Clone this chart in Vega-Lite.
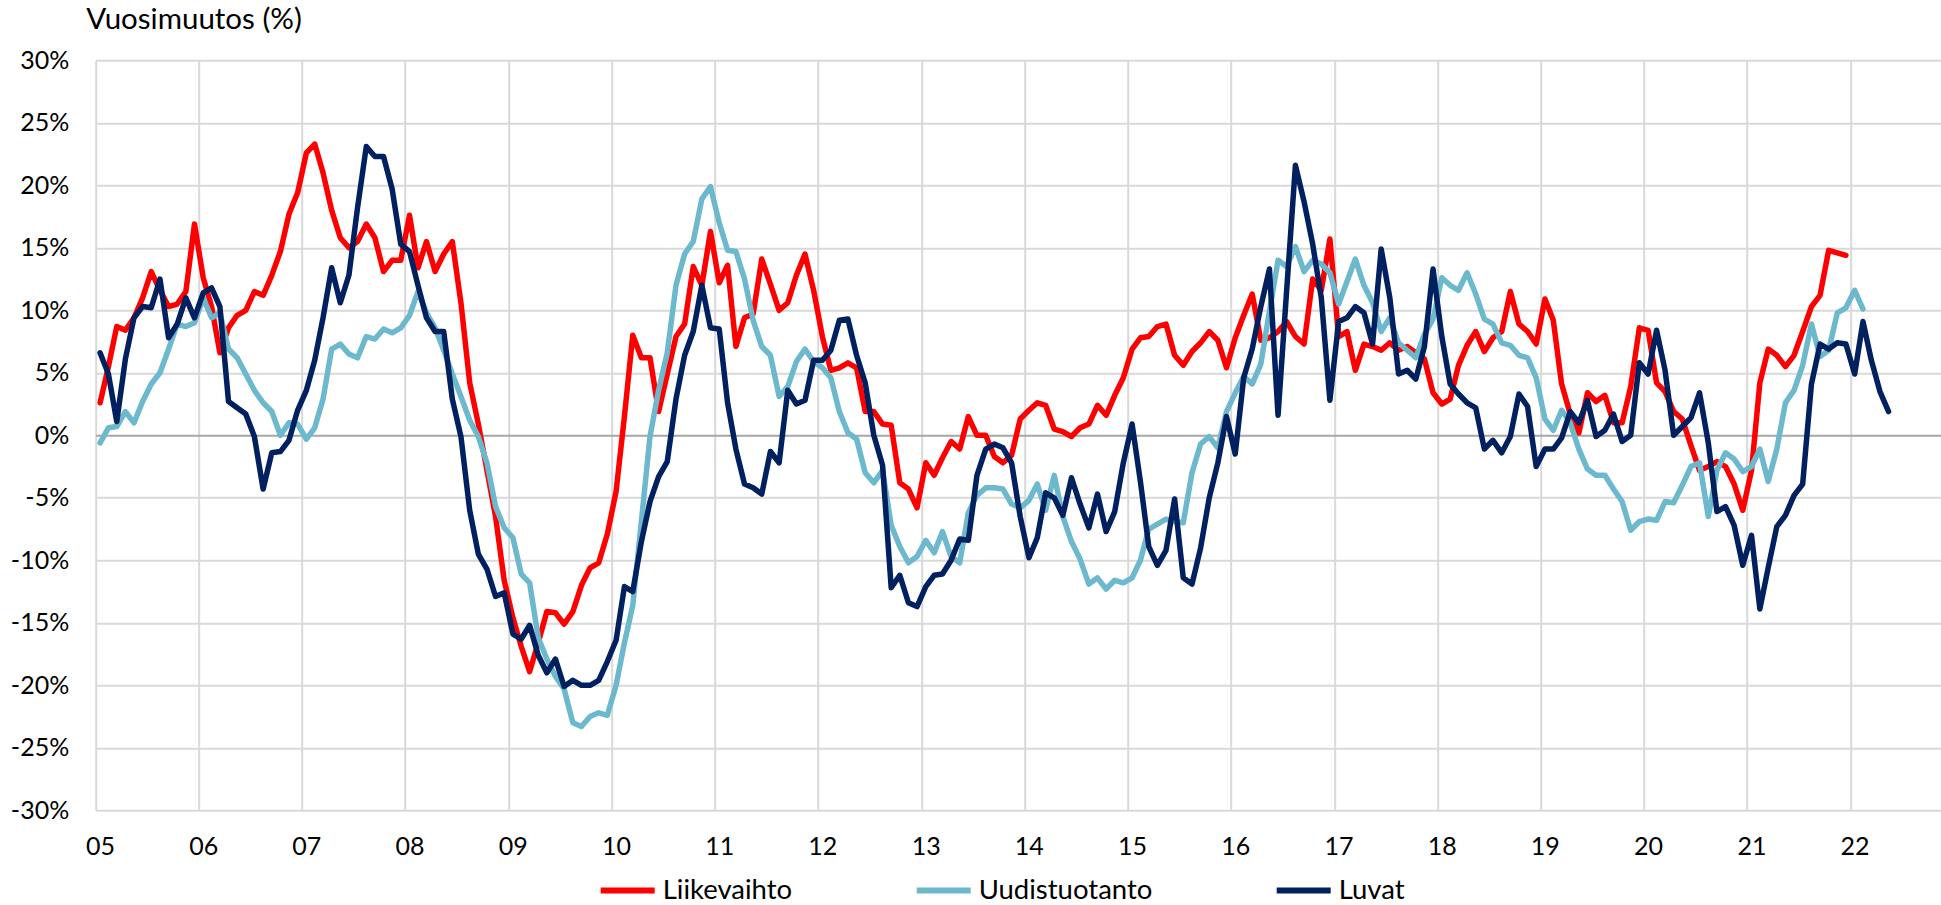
{
  "$schema": "https://vega.github.io/schema/vega-lite/v6.json",
  "width": 1845.3,
  "height": 750,
  "autosize": {"type": "none"},
  "padding": {"left": 95.7, "top": 60.3, "right": 0, "bottom": 94.7},
  "background": "white",
  "config": {"view": {"stroke": null}, "font": "Lato"},
  "data": {"values": [
    {"d":"2005-01","Liikevaihto":2.6,"Uudistuotanto":-0.6,"Luvat":6.6},
    {"d":"2005-02","Liikevaihto":5.5,"Uudistuotanto":0.6,"Luvat":4.9},
    {"d":"2005-03","Liikevaihto":8.7,"Uudistuotanto":0.7,"Luvat":1.1},
    {"d":"2005-04","Liikevaihto":8.4,"Uudistuotanto":1.9,"Luvat":6.1},
    {"d":"2005-05","Liikevaihto":9.4,"Uudistuotanto":1.0,"Luvat":9.4},
    {"d":"2005-06","Liikevaihto":11.0,"Uudistuotanto":2.7,"Luvat":10.3},
    {"d":"2005-07","Liikevaihto":13.1,"Uudistuotanto":4.1,"Luvat":10.2},
    {"d":"2005-08","Liikevaihto":11.6,"Uudistuotanto":5.0,"Luvat":12.5},
    {"d":"2005-09","Liikevaihto":10.3,"Uudistuotanto":6.9,"Luvat":7.8},
    {"d":"2005-10","Liikevaihto":10.5,"Uudistuotanto":8.9,"Luvat":8.9},
    {"d":"2005-11","Liikevaihto":11.5,"Uudistuotanto":8.7,"Luvat":11.0},
    {"d":"2005-12","Liikevaihto":16.9,"Uudistuotanto":9.0,"Luvat":9.4},
    {"d":"2006-01","Liikevaihto":12.6,"Uudistuotanto":11.0,"Luvat":11.4},
    {"d":"2006-02","Liikevaihto":10.3,"Uudistuotanto":9.4,"Luvat":11.8},
    {"d":"2006-03","Liikevaihto":6.6,"Uudistuotanto":9.8,"Luvat":10.3},
    {"d":"2006-04","Liikevaihto":8.6,"Uudistuotanto":6.9,"Luvat":2.7},
    {"d":"2006-05","Liikevaihto":9.6,"Uudistuotanto":6.2,"Luvat":2.2},
    {"d":"2006-06","Liikevaihto":10.0,"Uudistuotanto":4.9,"Luvat":1.7},
    {"d":"2006-07","Liikevaihto":11.5,"Uudistuotanto":3.6,"Luvat":-0.1},
    {"d":"2006-08","Liikevaihto":11.2,"Uudistuotanto":2.6,"Luvat":-4.3},
    {"d":"2006-09","Liikevaihto":12.8,"Uudistuotanto":1.9,"Luvat":-1.4},
    {"d":"2006-10","Liikevaihto":14.7,"Uudistuotanto":0.0,"Luvat":-1.3},
    {"d":"2006-11","Liikevaihto":17.7,"Uudistuotanto":1.0,"Luvat":-0.4},
    {"d":"2006-12","Liikevaihto":19.4,"Uudistuotanto":0.9,"Luvat":2.0},
    {"d":"2007-01","Liikevaihto":22.6,"Uudistuotanto":-0.3,"Luvat":3.6},
    {"d":"2007-02","Liikevaihto":23.3,"Uudistuotanto":0.6,"Luvat":6.0},
    {"d":"2007-03","Liikevaihto":21.0,"Uudistuotanto":2.9,"Luvat":9.4},
    {"d":"2007-04","Liikevaihto":18.0,"Uudistuotanto":6.9,"Luvat":13.4},
    {"d":"2007-05","Liikevaihto":15.8,"Uudistuotanto":7.3,"Luvat":10.6},
    {"d":"2007-06","Liikevaihto":15.0,"Uudistuotanto":6.5,"Luvat":12.8},
    {"d":"2007-07","Liikevaihto":15.5,"Uudistuotanto":6.2,"Luvat":18.2},
    {"d":"2007-08","Liikevaihto":16.9,"Uudistuotanto":7.9,"Luvat":23.1},
    {"d":"2007-09","Liikevaihto":15.8,"Uudistuotanto":7.7,"Luvat":22.3},
    {"d":"2007-10","Liikevaihto":13.1,"Uudistuotanto":8.5,"Luvat":22.3},
    {"d":"2007-11","Liikevaihto":14.0,"Uudistuotanto":8.2,"Luvat":19.7},
    {"d":"2007-12","Liikevaihto":14.0,"Uudistuotanto":8.6,"Luvat":15.3},
    {"d":"2008-01","Liikevaihto":17.6,"Uudistuotanto":9.6,"Luvat":14.7},
    {"d":"2008-02","Liikevaihto":13.4,"Uudistuotanto":11.5,"Luvat":12.0},
    {"d":"2008-03","Liikevaihto":15.5,"Uudistuotanto":9.8,"Luvat":9.4},
    {"d":"2008-04","Liikevaihto":13.1,"Uudistuotanto":8.6,"Luvat":8.3},
    {"d":"2008-05","Liikevaihto":14.5,"Uudistuotanto":6.8,"Luvat":8.3},
    {"d":"2008-06","Liikevaihto":15.5,"Uudistuotanto":4.9,"Luvat":2.9},
    {"d":"2008-07","Liikevaihto":10.6,"Uudistuotanto":3.1,"Luvat":-0.1},
    {"d":"2008-08","Liikevaihto":4.2,"Uudistuotanto":1.2,"Luvat":-6.0},
    {"d":"2008-09","Liikevaihto":0.9,"Uudistuotanto":-0.1,"Luvat":-9.5},
    {"d":"2008-10","Liikevaihto":-2.8,"Uudistuotanto":-2.2,"Luvat":-10.7},
    {"d":"2008-11","Liikevaihto":-6.5,"Uudistuotanto":-5.7,"Luvat":-12.9},
    {"d":"2008-12","Liikevaihto":-11.6,"Uudistuotanto":-7.4,"Luvat":-12.6},
    {"d":"2009-01","Liikevaihto":-14.6,"Uudistuotanto":-8.2,"Luvat":-15.9},
    {"d":"2009-02","Liikevaihto":-16.9,"Uudistuotanto":-11.1,"Luvat":-16.3},
    {"d":"2009-03","Liikevaihto":-18.9,"Uudistuotanto":-11.8,"Luvat":-15.2},
    {"d":"2009-04","Liikevaihto":-16.6,"Uudistuotanto":-16.2,"Luvat":-17.6},
    {"d":"2009-05","Liikevaihto":-14.1,"Uudistuotanto":-17.9,"Luvat":-19.0},
    {"d":"2009-06","Liikevaihto":-14.2,"Uudistuotanto":-19.3,"Luvat":-17.9},
    {"d":"2009-07","Liikevaihto":-15.1,"Uudistuotanto":-20.3,"Luvat":-20.1},
    {"d":"2009-08","Liikevaihto":-14.1,"Uudistuotanto":-23.0,"Luvat":-19.6},
    {"d":"2009-09","Liikevaihto":-12.0,"Uudistuotanto":-23.3,"Luvat":-20.0},
    {"d":"2009-10","Liikevaihto":-10.6,"Uudistuotanto":-22.5,"Luvat":-20.0},
    {"d":"2009-11","Liikevaihto":-10.2,"Uudistuotanto":-22.2,"Luvat":-19.6},
    {"d":"2009-12","Liikevaihto":-7.9,"Uudistuotanto":-22.4,"Luvat":-18.1},
    {"d":"2010-01","Liikevaihto":-4.5,"Uudistuotanto":-20.0,"Luvat":-16.4},
    {"d":"2010-02","Liikevaihto":1.5,"Uudistuotanto":-16.6,"Luvat":-12.1},
    {"d":"2010-03","Liikevaihto":8.0,"Uudistuotanto":-13.6,"Luvat":-12.5},
    {"d":"2010-04","Liikevaihto":6.2,"Uudistuotanto":-6.9,"Luvat":-8.5},
    {"d":"2010-05","Liikevaihto":6.2,"Uudistuotanto":-0.1,"Luvat":-5.3},
    {"d":"2010-06","Liikevaihto":1.9,"Uudistuotanto":3.6,"Luvat":-3.3},
    {"d":"2010-07","Liikevaihto":4.9,"Uudistuotanto":6.6,"Luvat":-2.1},
    {"d":"2010-08","Liikevaihto":7.9,"Uudistuotanto":12.0,"Luvat":2.9},
    {"d":"2010-09","Liikevaihto":8.9,"Uudistuotanto":14.5,"Luvat":6.4},
    {"d":"2010-10","Liikevaihto":13.5,"Uudistuotanto":15.5,"Luvat":8.3},
    {"d":"2010-11","Liikevaihto":12.0,"Uudistuotanto":18.9,"Luvat":12.0},
    {"d":"2010-12","Liikevaihto":16.3,"Uudistuotanto":19.9,"Luvat":8.6},
    {"d":"2011-01","Liikevaihto":12.2,"Uudistuotanto":17.0,"Luvat":8.5},
    {"d":"2011-02","Liikevaihto":13.6,"Uudistuotanto":14.8,"Luvat":2.6},
    {"d":"2011-03","Liikevaihto":7.1,"Uudistuotanto":14.7,"Luvat":-1.1},
    {"d":"2011-04","Liikevaihto":9.4,"Uudistuotanto":12.5,"Luvat":-3.9},
    {"d":"2011-05","Liikevaihto":9.7,"Uudistuotanto":9.2,"Luvat":-4.2},
    {"d":"2011-06","Liikevaihto":14.1,"Uudistuotanto":7.1,"Luvat":-4.7},
    {"d":"2011-07","Liikevaihto":12.1,"Uudistuotanto":6.4,"Luvat":-1.3},
    {"d":"2011-08","Liikevaihto":10.0,"Uudistuotanto":3.1,"Luvat":-2.2},
    {"d":"2011-09","Liikevaihto":10.6,"Uudistuotanto":3.9,"Luvat":3.6},
    {"d":"2011-10","Liikevaihto":12.8,"Uudistuotanto":5.9,"Luvat":2.5},
    {"d":"2011-11","Liikevaihto":14.5,"Uudistuotanto":6.9,"Luvat":2.8},
    {"d":"2011-12","Liikevaihto":11.6,"Uudistuotanto":5.9,"Luvat":6.0},
    {"d":"2012-01","Liikevaihto":7.9,"Uudistuotanto":5.4,"Luvat":6.0},
    {"d":"2012-02","Liikevaihto":5.2,"Uudistuotanto":4.6,"Luvat":6.8},
    {"d":"2012-03","Liikevaihto":5.4,"Uudistuotanto":1.9,"Luvat":9.2},
    {"d":"2012-04","Liikevaihto":5.8,"Uudistuotanto":0.2,"Luvat":9.3},
    {"d":"2012-05","Liikevaihto":5.4,"Uudistuotanto":-0.3,"Luvat":6.4},
    {"d":"2012-06","Liikevaihto":1.9,"Uudistuotanto":-3.0,"Luvat":4.2},
    {"d":"2012-07","Liikevaihto":1.9,"Uudistuotanto":-3.8,"Luvat":0.0},
    {"d":"2012-08","Liikevaihto":0.9,"Uudistuotanto":-2.8,"Luvat":-2.4},
    {"d":"2012-09","Liikevaihto":0.8,"Uudistuotanto":-7.2,"Luvat":-12.2},
    {"d":"2012-10","Liikevaihto":-3.8,"Uudistuotanto":-8.9,"Luvat":-11.2},
    {"d":"2012-11","Liikevaihto":-4.3,"Uudistuotanto":-10.2,"Luvat":-13.4},
    {"d":"2012-12","Liikevaihto":-5.8,"Uudistuotanto":-9.7,"Luvat":-13.7},
    {"d":"2013-01","Liikevaihto":-2.2,"Uudistuotanto":-8.4,"Luvat":-12.1},
    {"d":"2013-02","Liikevaihto":-3.2,"Uudistuotanto":-9.4,"Luvat":-11.2},
    {"d":"2013-03","Liikevaihto":-1.8,"Uudistuotanto":-7.7,"Luvat":-11.1},
    {"d":"2013-04","Liikevaihto":-0.5,"Uudistuotanto":-9.7,"Luvat":-10.0},
    {"d":"2013-05","Liikevaihto":-1.1,"Uudistuotanto":-10.2,"Luvat":-8.3},
    {"d":"2013-06","Liikevaihto":1.5,"Uudistuotanto":-6.2,"Luvat":-8.4},
    {"d":"2013-07","Liikevaihto":0.0,"Uudistuotanto":-4.8,"Luvat":-3.2},
    {"d":"2013-08","Liikevaihto":0.0,"Uudistuotanto":-4.2,"Luvat":-1.1},
    {"d":"2013-09","Liikevaihto":-1.7,"Uudistuotanto":-4.2,"Luvat":-0.7},
    {"d":"2013-10","Liikevaihto":-2.2,"Uudistuotanto":-4.3,"Luvat":-1.0},
    {"d":"2013-11","Liikevaihto":-1.6,"Uudistuotanto":-5.5,"Luvat":-2.2},
    {"d":"2013-12","Liikevaihto":1.3,"Uudistuotanto":-5.8,"Luvat":-6.5},
    {"d":"2014-01","Liikevaihto":2.0,"Uudistuotanto":-5.2,"Luvat":-9.8},
    {"d":"2014-02","Liikevaihto":2.6,"Uudistuotanto":-3.9,"Luvat":-8.2},
    {"d":"2014-03","Liikevaihto":2.4,"Uudistuotanto":-6.0,"Luvat":-4.6},
    {"d":"2014-04","Liikevaihto":0.5,"Uudistuotanto":-3.2,"Luvat":-5.0},
    {"d":"2014-05","Liikevaihto":0.3,"Uudistuotanto":-6.5,"Luvat":-6.4},
    {"d":"2014-06","Liikevaihto":-0.1,"Uudistuotanto":-8.5,"Luvat":-3.4},
    {"d":"2014-07","Liikevaihto":0.6,"Uudistuotanto":-9.9,"Luvat":-5.5},
    {"d":"2014-08","Liikevaihto":0.9,"Uudistuotanto":-11.9,"Luvat":-7.4},
    {"d":"2014-09","Liikevaihto":2.4,"Uudistuotanto":-11.4,"Luvat":-4.7},
    {"d":"2014-10","Liikevaihto":1.6,"Uudistuotanto":-12.3,"Luvat":-7.7},
    {"d":"2014-11","Liikevaihto":3.2,"Uudistuotanto":-11.6,"Luvat":-6.1},
    {"d":"2014-12","Liikevaihto":4.6,"Uudistuotanto":-11.8,"Luvat":-2.2},
    {"d":"2015-01","Liikevaihto":6.9,"Uudistuotanto":-11.4,"Luvat":0.9},
    {"d":"2015-02","Liikevaihto":7.8,"Uudistuotanto":-10.0,"Luvat":-3.7},
    {"d":"2015-03","Liikevaihto":7.9,"Uudistuotanto":-7.5,"Luvat":-8.9},
    {"d":"2015-04","Liikevaihto":8.7,"Uudistuotanto":-7.1,"Luvat":-10.4},
    {"d":"2015-05","Liikevaihto":8.9,"Uudistuotanto":-6.7,"Luvat":-9.2},
    {"d":"2015-06","Liikevaihto":6.4,"Uudistuotanto":-6.9,"Luvat":-5.1},
    {"d":"2015-07","Liikevaihto":5.6,"Uudistuotanto":-7.0,"Luvat":-11.4},
    {"d":"2015-08","Liikevaihto":6.7,"Uudistuotanto":-3.0,"Luvat":-11.9},
    {"d":"2015-09","Liikevaihto":7.4,"Uudistuotanto":-0.7,"Luvat":-9.0},
    {"d":"2015-10","Liikevaihto":8.3,"Uudistuotanto":-0.1,"Luvat":-5.0},
    {"d":"2015-11","Liikevaihto":7.6,"Uudistuotanto":-1.0,"Luvat":-2.2},
    {"d":"2015-12","Liikevaihto":5.4,"Uudistuotanto":1.9,"Luvat":1.5},
    {"d":"2016-01","Liikevaihto":7.8,"Uudistuotanto":3.4,"Luvat":-1.5},
    {"d":"2016-02","Liikevaihto":9.6,"Uudistuotanto":4.7,"Luvat":4.6},
    {"d":"2016-03","Liikevaihto":11.3,"Uudistuotanto":4.1,"Luvat":6.9},
    {"d":"2016-04","Liikevaihto":7.6,"Uudistuotanto":5.7,"Luvat":10.3},
    {"d":"2016-05","Liikevaihto":7.8,"Uudistuotanto":9.9,"Luvat":13.3},
    {"d":"2016-06","Liikevaihto":8.3,"Uudistuotanto":14.0,"Luvat":1.6},
    {"d":"2016-07","Liikevaihto":9.1,"Uudistuotanto":13.5,"Luvat":11.6},
    {"d":"2016-08","Liikevaihto":7.9,"Uudistuotanto":15.1,"Luvat":21.6},
    {"d":"2016-09","Liikevaihto":7.3,"Uudistuotanto":13.1,"Luvat":18.7},
    {"d":"2016-10","Liikevaihto":12.5,"Uudistuotanto":14.0,"Luvat":15.3},
    {"d":"2016-11","Liikevaihto":11.6,"Uudistuotanto":13.7,"Luvat":11.0},
    {"d":"2016-12","Liikevaihto":15.7,"Uudistuotanto":13.0,"Luvat":2.8},
    {"d":"2017-01","Liikevaihto":7.9,"Uudistuotanto":10.5,"Luvat":9.1},
    {"d":"2017-02","Liikevaihto":8.3,"Uudistuotanto":12.3,"Luvat":9.4},
    {"d":"2017-03","Liikevaihto":5.2,"Uudistuotanto":14.1,"Luvat":10.3},
    {"d":"2017-04","Liikevaihto":7.3,"Uudistuotanto":12.0,"Luvat":9.8},
    {"d":"2017-05","Liikevaihto":7.1,"Uudistuotanto":10.6,"Luvat":7.3},
    {"d":"2017-06","Liikevaihto":6.8,"Uudistuotanto":8.3,"Luvat":14.9},
    {"d":"2017-07","Liikevaihto":7.4,"Uudistuotanto":9.4,"Luvat":11.0},
    {"d":"2017-08","Liikevaihto":6.8,"Uudistuotanto":7.4,"Luvat":4.9},
    {"d":"2017-09","Liikevaihto":7.1,"Uudistuotanto":6.8,"Luvat":5.2},
    {"d":"2017-10","Liikevaihto":6.6,"Uudistuotanto":6.2,"Luvat":4.5},
    {"d":"2017-11","Liikevaihto":6.1,"Uudistuotanto":8.1,"Luvat":7.1},
    {"d":"2017-12","Liikevaihto":3.4,"Uudistuotanto":9.3,"Luvat":13.3},
    {"d":"2018-01","Liikevaihto":2.5,"Uudistuotanto":12.6,"Luvat":7.9},
    {"d":"2018-02","Liikevaihto":2.9,"Uudistuotanto":12.0,"Luvat":4.1},
    {"d":"2018-03","Liikevaihto":5.6,"Uudistuotanto":11.6,"Luvat":3.3},
    {"d":"2018-04","Liikevaihto":7.2,"Uudistuotanto":13.0,"Luvat":2.6},
    {"d":"2018-05","Liikevaihto":8.3,"Uudistuotanto":11.3,"Luvat":2.2},
    {"d":"2018-06","Liikevaihto":6.7,"Uudistuotanto":9.3,"Luvat":-1.1},
    {"d":"2018-07","Liikevaihto":7.8,"Uudistuotanto":8.9,"Luvat":-0.4},
    {"d":"2018-08","Liikevaihto":8.3,"Uudistuotanto":7.4,"Luvat":-1.4},
    {"d":"2018-09","Liikevaihto":11.5,"Uudistuotanto":7.2,"Luvat":-0.1},
    {"d":"2018-10","Liikevaihto":8.9,"Uudistuotanto":6.4,"Luvat":3.3},
    {"d":"2018-11","Liikevaihto":8.3,"Uudistuotanto":6.2,"Luvat":2.3},
    {"d":"2018-12","Liikevaihto":7.3,"Uudistuotanto":4.6,"Luvat":-2.5},
    {"d":"2019-01","Liikevaihto":10.9,"Uudistuotanto":1.3,"Luvat":-1.1},
    {"d":"2019-02","Liikevaihto":9.2,"Uudistuotanto":0.4,"Luvat":-1.1},
    {"d":"2019-03","Liikevaihto":4.1,"Uudistuotanto":2.0,"Luvat":-0.2},
    {"d":"2019-04","Liikevaihto":1.7,"Uudistuotanto":1.0,"Luvat":1.9},
    {"d":"2019-05","Liikevaihto":0.2,"Uudistuotanto":-1.1,"Luvat":1.0},
    {"d":"2019-06","Liikevaihto":3.4,"Uudistuotanto":-2.7,"Luvat":2.8},
    {"d":"2019-07","Liikevaihto":2.7,"Uudistuotanto":-3.2,"Luvat":-0.1},
    {"d":"2019-08","Liikevaihto":3.2,"Uudistuotanto":-3.2,"Luvat":0.4},
    {"d":"2019-09","Liikevaihto":1.0,"Uudistuotanto":-4.3,"Luvat":1.7},
    {"d":"2019-10","Liikevaihto":1.0,"Uudistuotanto":-5.3,"Luvat":-0.5},
    {"d":"2019-11","Liikevaihto":3.9,"Uudistuotanto":-7.6,"Luvat":0.0},
    {"d":"2019-12","Liikevaihto":8.6,"Uudistuotanto":-6.9,"Luvat":5.8},
    {"d":"2020-01","Liikevaihto":8.4,"Uudistuotanto":-6.7,"Luvat":4.9},
    {"d":"2020-02","Liikevaihto":4.2,"Uudistuotanto":-6.8,"Luvat":8.4},
    {"d":"2020-03","Liikevaihto":3.5,"Uudistuotanto":-5.3,"Luvat":5.2},
    {"d":"2020-04","Liikevaihto":1.9,"Uudistuotanto":-5.4,"Luvat":0.0},
    {"d":"2020-05","Liikevaihto":1.3,"Uudistuotanto":-4.0,"Luvat":0.7},
    {"d":"2020-06","Liikevaihto":-0.8,"Uudistuotanto":-2.5,"Luvat":1.4},
    {"d":"2020-07","Liikevaihto":-2.8,"Uudistuotanto":-2.2,"Luvat":3.4},
    {"d":"2020-08","Liikevaihto":-2.5,"Uudistuotanto":-6.5,"Luvat":-0.6},
    {"d":"2020-09","Liikevaihto":-2.1,"Uudistuotanto":-2.8,"Luvat":-6.1},
    {"d":"2020-10","Liikevaihto":-2.5,"Uudistuotanto":-1.4,"Luvat":-5.7},
    {"d":"2020-11","Liikevaihto":-3.9,"Uudistuotanto":-1.9,"Luvat":-7.2},
    {"d":"2020-12","Liikevaihto":-6.0,"Uudistuotanto":-2.9,"Luvat":-10.4},
    {"d":"2021-01","Liikevaihto":-2.8,"Uudistuotanto":-2.5,"Luvat":-8.0},
    {"d":"2021-02","Liikevaihto":4.2,"Uudistuotanto":-1.1,"Luvat":-13.9},
    {"d":"2021-03","Liikevaihto":6.9,"Uudistuotanto":-3.7,"Luvat":-10.6},
    {"d":"2021-04","Liikevaihto":6.4,"Uudistuotanto":-1.1,"Luvat":-7.3},
    {"d":"2021-05","Liikevaihto":5.5,"Uudistuotanto":2.6,"Luvat":-6.4},
    {"d":"2021-06","Liikevaihto":6.4,"Uudistuotanto":3.6,"Luvat":-4.8},
    {"d":"2021-07","Liikevaihto":8.3,"Uudistuotanto":5.6,"Luvat":-3.9},
    {"d":"2021-08","Liikevaihto":10.3,"Uudistuotanto":8.9,"Luvat":4.1},
    {"d":"2021-09","Liikevaihto":11.2,"Uudistuotanto":6.3,"Luvat":7.3},
    {"d":"2021-10","Liikevaihto":14.8,"Uudistuotanto":6.8,"Luvat":6.9},
    {"d":"2021-11","Liikevaihto":14.6,"Uudistuotanto":9.8,"Luvat":7.4},
    {"d":"2021-12","Liikevaihto":14.4,"Uudistuotanto":10.2,"Luvat":7.3},
    {"d":"2022-01","Uudistuotanto":11.6,"Luvat":4.9},
    {"d":"2022-02","Uudistuotanto":10.1,"Luvat":9.1},
    {"d":"2022-03","Luvat":6.0},
    {"d":"2022-04","Luvat":3.5},
    {"d":"2022-05","Luvat":1.9}
  ]},
  "transform": [{"fold": ["Liikevaihto", "Uudistuotanto", "Luvat"], "as": ["s", "v"]}],
  "encoding": {
    "x": {
      "field": "d", "type": "temporal", "timeUnit": "utcyearmonth", "bandPosition": 0.5,
      "scale": {"domain": [1104537600000, 1668729600000], "nice": false},
      "axis": {
        "title": null,
        "values": [{"year":2005,"utc":true},{"year":2006,"utc":true},{"year":2007,"utc":true},{"year":2008,"utc":true},{"year":2009,"utc":true},{"year":2010,"utc":true},{"year":2011,"utc":true},{"year":2012,"utc":true},{"year":2013,"utc":true},{"year":2014,"utc":true},{"year":2015,"utc":true},{"year":2016,"utc":true},{"year":2017,"utc":true},{"year":2018,"utc":true},{"year":2019,"utc":true},{"year":2020,"utc":true},{"year":2021,"utc":true},{"year":2022,"utc":true}],
        "labelExpr": "utcFormat(datum.value, '%y')",
        "grid": true, "gridColor": "#D9D9D9", "gridWidth": 2,
        "domain": false, "ticks": false,
        "labelPadding": 24, "labelFontSize": 25, "labelFont": "Lato", "labelColor": "#000000",
        "labelOffset": 4.3, "labelFlush": false, "labelOverlap": false
      }
    },
    "y": {
      "field": "v", "type": "quantitative",
      "scale": {"domain": [-30, 30], "nice": false},
      "axis": {
        "values": [-30, -25, -20, -15, -10, -5, 0, 5, 10, 15, 20, 25, 30],
        "labelExpr": "datum.value + '%'",
        "grid": true,
        "gridColor": {"condition": {"test": "datum.value === 0", "value": "#A6A6A6"}, "value": "#D9D9D9"},
        "gridWidth": 2,
        "domain": false, "ticks": false,
        "labelPadding": 27, "labelFontSize": 25, "labelFont": "Lato", "labelColor": "#000000",
        "title": "Vuosimuutos (%)", "titleAngle": 0, "titleAlign": "left", "titleBaseline": "alphabetic",
        "titleX": -10, "titleY": -32, "titleFontSize": 29.5, "titleFont": "Lato", "titleFontWeight": "normal", "titleColor": "#000000"
      }
    },
    "color": {
      "field": "s", "type": "nominal",
      "scale": {"domain": ["Liikevaihto", "Uudistuotanto", "Luvat"], "range": ["#FF0000", "#6CB8CC", "#002060"]},
      "legend": {
        "orient": "none", "legendX": 502, "legendY": 800, "direction": "horizontal", "title": null,
        "symbolType": "stroke", "symbolSize": 2916, "symbolStrokeWidth": 6,
        "labelFontSize": 27.5, "labelFont": "Lato", "labelColor": "#000000", "labelOffset": 5,
        "labelLimit": 400, "columnPadding": 112
      }
    }
  },
  "layer": [
    {"transform": [{"filter": "datum.s === 'Liikevaihto'"}], "mark": {"type": "line", "strokeWidth": 5.5, "strokeJoin": "round", "strokeCap": "round"}},
    {"transform": [{"filter": "datum.s === 'Uudistuotanto'"}], "mark": {"type": "line", "strokeWidth": 5.5, "strokeJoin": "round", "strokeCap": "round"}},
    {"transform": [{"filter": "datum.s === 'Luvat'"}], "mark": {"type": "line", "strokeWidth": 5.5, "strokeJoin": "round", "strokeCap": "round"}}
  ]
}
